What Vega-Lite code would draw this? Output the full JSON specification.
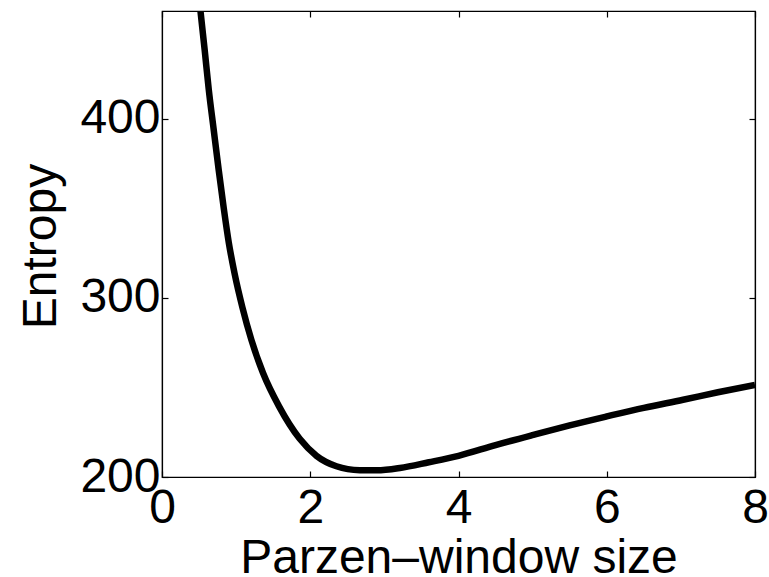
{
  "$schema": "https://vega.github.io/schema/vega-lite/v6.json",
  "width": 593,
  "height": 466,
  "autosize": "none",
  "padding": {"left": 162, "top": 11, "right": 14, "bottom": 100},
  "background": "white",
  "config": {
    "view": {"stroke": "black", "strokeWidth": 1.2},
    "font": "Liberation Sans",
    "axis": {
      "grid": false,
      "domainColor": "black",
      "tickColor": "black",
      "labelColor": "black",
      "titleColor": "black",
      "labelFont": "Liberation Sans",
      "titleFont": "Liberation Sans",
      "labelFontSize": 48,
      "titleFontSize": 48,
      "titleFontWeight": "normal",
      "tickSize": -6,
      "tickWidth": 1.2,
      "domainWidth": 1.2
    }
  },
  "data": {
    "values": [
      {"size": 0.5, "entropy": 468},
      {"size": 0.518, "entropy": 460.4},
      {"size": 0.576, "entropy": 438.2},
      {"size": 0.63, "entropy": 416.5},
      {"size": 0.698, "entropy": 393.6},
      {"size": 0.765, "entropy": 371.3},
      {"size": 0.833, "entropy": 350.0},
      {"size": 0.9, "entropy": 331.0},
      {"size": 0.981, "entropy": 313.2},
      {"size": 1.085, "entropy": 294.6},
      {"size": 1.206, "entropy": 276.5},
      {"size": 1.363, "entropy": 258.0},
      {"size": 1.579, "entropy": 239.4},
      {"size": 1.858, "entropy": 221.3},
      {"size": 2.084, "entropy": 211.8},
      {"size": 2.353, "entropy": 206.0},
      {"size": 2.67, "entropy": 203.8},
      {"size": 2.9, "entropy": 203.7},
      {"size": 3.21, "entropy": 205.0},
      {"size": 3.6, "entropy": 208.2},
      {"size": 4.0, "entropy": 211.8},
      {"size": 4.5, "entropy": 217.8},
      {"size": 5.01, "entropy": 223.5},
      {"size": 5.5, "entropy": 228.8},
      {"size": 6.0, "entropy": 233.8},
      {"size": 6.5, "entropy": 238.6},
      {"size": 7.03, "entropy": 243.1},
      {"size": 7.5, "entropy": 247.3},
      {"size": 8.0, "entropy": 251.4}
    ]
  },
  "layer": [
    {
      "mark": {"type": "line", "color": "black", "strokeWidth": 6.5, "interpolate": "monotone", "clip": true},
      "encoding": {
        "x": {
          "field": "size", "type": "quantitative",
          "scale": {"domain": [0, 8], "nice": false, "zero": false},
          "axis": {
            "orient": "bottom",
            "values": [0, 2, 4, 6, 8],
            "labelPadding": 13,
            "labelFlush": false,
            "labelOverlap": false,
            "title": "Parzen–window size",
            "titleBaseline": "alphabetic",
            "titleY": 95
          }
        },
        "y": {
          "field": "entropy", "type": "quantitative",
          "scale": {"domain": [200, 460], "nice": false, "zero": false},
          "axis": {
            "orient": "left",
            "values": [200, 300, 400],
            "labelPadding": 8,
            "labelFlush": false,
            "labelOverlap": false,
            "title": "Entropy",
            "titleAngle": 270,
            "titleBaseline": "alphabetic",
            "titleX": -107,
            "titleY": 235
          }
        }
      }
    },
    {
      "mark": {"type": "line", "opacity": 0, "clip": true},
      "encoding": {
        "x": {
          "field": "size", "type": "quantitative",
          "scale": {"domain": [0, 8], "nice": false, "zero": false},
          "axis": {"orient": "top", "values": [0, 2, 4, 6, 8], "labels": false, "title": null}
        },
        "y": {
          "field": "entropy", "type": "quantitative",
          "scale": {"domain": [200, 460], "nice": false, "zero": false},
          "axis": {"orient": "right", "values": [200, 300, 400], "labels": false, "title": null}
        }
      }
    }
  ],
  "resolve": {"axis": {"x": "independent", "y": "independent"}}
}
